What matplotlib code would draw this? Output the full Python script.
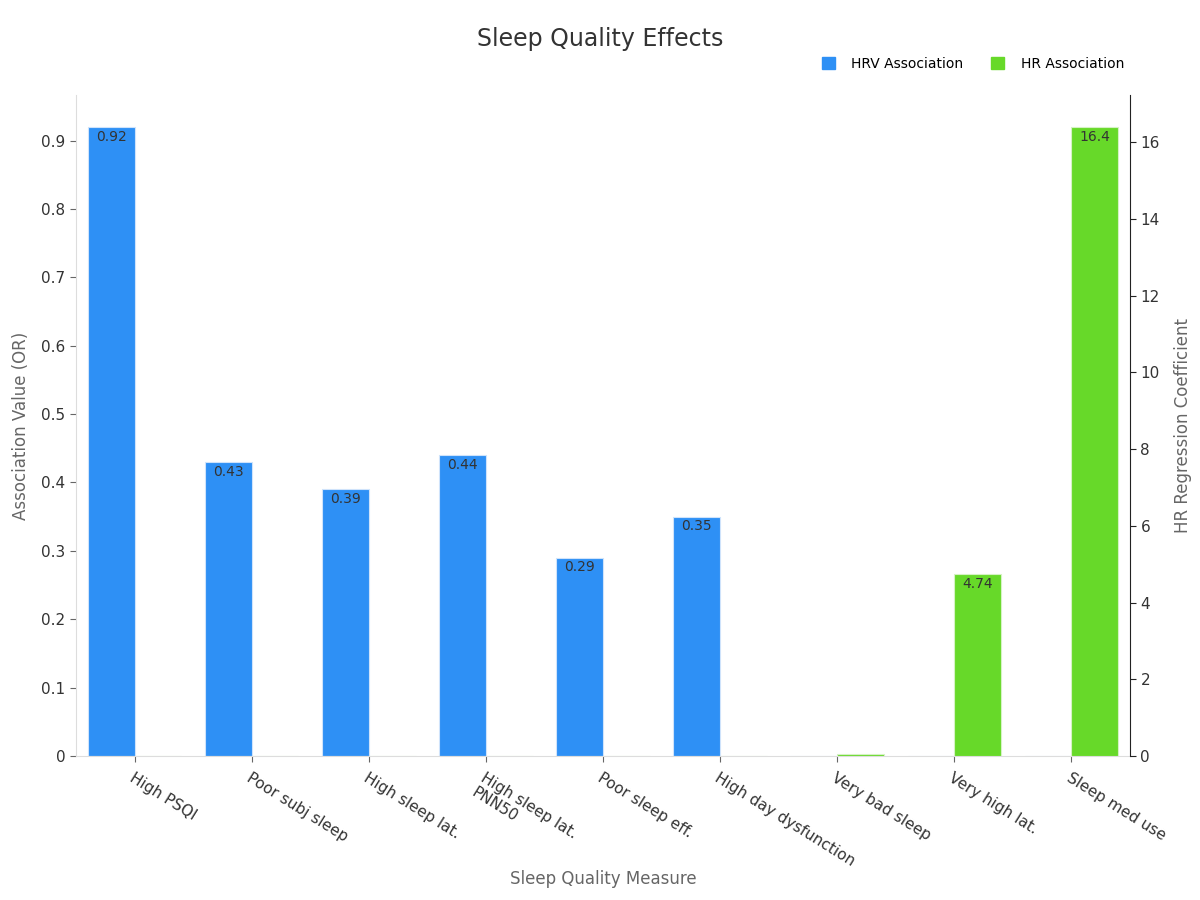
import numpy as np
import matplotlib.pyplot as plt
from matplotlib.patches import Patch

plt.rcParams['font.family'] = ['DejaVu Sans']

# data
categories = ["High PSQI", "Poor subj sleep", "High sleep lat.", "High sleep lat.\nPNN50",
              "Poor sleep eff.", "High day dysfunction", "Very bad sleep", "Very high lat.",
              "Sleep med use"]
hrvValues = [0.92, 0.43, 0.39, 0.44, 0.29, 0.35, 0, 0, 0]
hrValues = [0, 0, 0, 0, 0, 0, 0.05, 4.74, 16.4]
hrvLabels = ["0.92", "0.43", "0.39", "0.44", "0.29", "0.35", "", "", ""]
hrLabels = ["", "", "", "", "", "", "", "4.74", "16.4"]

blue = "#2E90F5"
green = "#67D929"
gray = "#666666"

fig = plt.figure(figsize=(12, 9), dpi=100)
ax = fig.add_axes([0.0633, 0.16, 0.8784, 0.734])
ax2 = ax.twinx()

x = np.arange(len(categories))
w = 0.4

hrvBars = ax.bar(x - w / 2, hrvValues, w, color=blue, edgecolor="#cfe3fb", linewidth=0.8)
hrBars = ax2.bar(x + w / 2, hrValues, w, color=green, edgecolor="#d5f2c4", linewidth=0.8)

ax.set_xlim(-0.5, len(categories) - 0.5)
ax.set_ylim(0, max(hrvValues) * 1.05)
ax2.set_ylim(0, max(hrValues) * 1.05)

# value labels just inside the bar tops
for bar, lab in zip(hrvBars, hrvLabels):
    if lab:
        ax.annotate(lab, (bar.get_x() + bar.get_width() / 2, bar.get_height()),
                    xytext=(0, -2), textcoords="offset points", ha="center", va="top",
                    fontsize=10, color="#333333")
for bar, lab in zip(hrBars, hrLabels):
    if lab:
        ax2.annotate(lab, (bar.get_x() + bar.get_width() / 2, bar.get_height()),
                     xytext=(0, -2), textcoords="offset points", ha="center", va="top",
                     fontsize=10, color="#333333")

ax.set_yticks(np.arange(0, 0.91, 0.1))
ax.set_yticklabels(["0"] + [f"{v:.1f}" for v in np.arange(0.1, 0.91, 0.1)])
ax2.set_yticks(np.arange(0, 17, 2))

ax.set_xticks(x)
ax.set_xticklabels(categories, rotation=-32, ha="left", rotation_mode="anchor", fontsize=11)
for t in ax.get_xticklabels():
    t.set_multialignment("left")

for s in ["top", "right"]:
    ax.spines[s].set_visible(False)
ax.spines["left"].set_color("#dddddd")
ax.spines["bottom"].set_color("#dddddd")
ax2.spines["top"].set_visible(False)
ax2.spines["left"].set_visible(False)
ax2.spines["bottom"].set_visible(False)
ax2.spines["right"].set_color("#222222")

ax.tick_params(axis="y", colors="#666666", labelcolor="#333333", labelsize=11, length=4)
ax.tick_params(axis="x", colors="#666666", labelcolor="#333333", length=4, pad=6)
ax2.tick_params(axis="y", colors="#222222", labelcolor="#333333", labelsize=11, length=4)

ax.set_ylabel("Association Value (OR)", color=gray, fontsize=12, labelpad=8)
ax2.set_ylabel("HR Regression Coefficient", color=gray, fontsize=12, labelpad=10)
ax.set_xlabel("Sleep Quality Measure", color=gray, fontsize=12)
ax.xaxis.set_label_coords(0.5, -0.172)

fig.suptitle("Sleep Quality Effects", fontsize=17, color="#333333", y=0.97)

handles = [Patch(color=blue, label="HRV Association"), Patch(color=green, label="HR Association")]
fig.legend(handles=handles, loc="upper right", bbox_to_anchor=(0.947, 0.951), ncol=2,
           frameon=False, fontsize=10, handlelength=0.9, handleheight=0.9, columnspacing=2.0,
           handletextpad=1.2)

fig.savefig("out.png", dpi=100)
